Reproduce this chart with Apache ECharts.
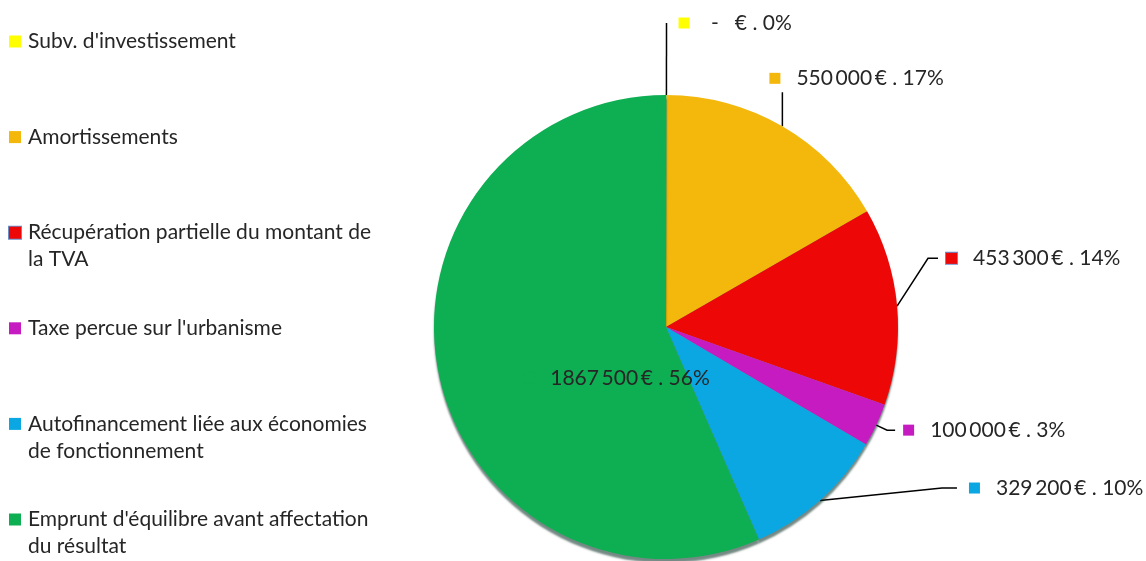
<!DOCTYPE html>
<html>
<head>
<meta charset="utf-8">
<script src="https://cdn.jsdelivr.net/npm/echarts@6/dist/echarts.min.js"></script>
<style>
html,body{margin:0;padding:0;background:#fff;}
#chart{width:1146px;height:561px;}
</style>
</head>
<body>
<div id="chart"></div>
<script>
// ---- data ----
const categories = [
  "Subv. d'investissement",
  "Amortissements",
  "Récupération partielle du montant de la TVA",
  "Taxe percue sur l'urbanisme",
  "Autofinancement liée aux économies de fonctionnement",
  "Emprunt d'équilibre avant affectation du résultat"
];
const legendLines = [
  ["Subv. d'investissement", ""],
  ["Amortissements", ""],
  ["Récupération partielle du montant de", "la TVA"],
  ["Taxe percue sur l'urbanisme", ""],
  ["Autofinancement liée aux économies", "de fonctionnement"],
  ["Emprunt d'équilibre avant affectation", "du résultat"]
];
const values = [0, 550000, 453300, 100000, 329200, 1867500];

// ---- styles ----
const colors = ['#FFFF00', '#F4B80C', '#EE0707', '#C71BC2', '#0BA7E3', '#0EAE52'];
const FONT = 'Lato';
const TEXT = '#262626';

function fmtMoney(v) {
  if (v === 0) return ' -   €';
  const s = String(v);
  return (s.length > 3 ? s.slice(0, -3) + '\u2009' + s.slice(-3) : s) + '\u2009€';
}

const rich = {
  v: { fontFamily: FONT, fontSize: 21, color: TEXT, padding: [0, 0, 0, 16], lineHeight: 24 },
  t: { fontFamily: FONT, fontSize: 21, color: TEXT, padding: [0, 0, 0, 7], lineHeight: 27 },
  sp: { width: 12, height: 12, lineHeight: 27 }
};
colors.forEach((c, i) => {
  const border = i === 2 ? { borderColor: '#6C8CC8', borderWidth: 1 } : {};
  rich['m' + i] = Object.assign({ width: 11, height: 11, backgroundColor: c }, border);
  rich['b' + i] = Object.assign({ width: 12, height: 12, backgroundColor: c, lineHeight: 27 }, border);
});

const labelLines = [
  { length: 72, length2: 0 },
  { length: 30, length2: 0 },
  { length: 8, length2: 25 },
  { length: 12, length2: 8 },
  { length: 6, length2: 125 },
  {}
];
const labelDistance = [12, 8, 8, 8, 12, 8];
// label shift, line end offset from shifted anchor, horizontal tail length
const labelAdjust = [
  null,
  { shift: [-36, -22], end: [21, 14], tail: 0 },
  { shift: [8, -47], end: [0, 0], tail: 10 },
  null,
  { shift: [8, -17], end: [0, 0], tail: 15 },
  null
];

const data = categories.map((name, i) => {
  const item = {
    name: name, value: values[i],
    labelLine: labelLines[i],
    label: { distanceToLabelLine: labelDistance[i] }
  };
  if (i === 5) {
    item.label = { position: 'inner', offset: [67, 27] };
  }
  return item;
});

const chart = echarts.init(document.getElementById('chart'), null, { renderer: 'canvas' });
chart.setOption({
  animation: false,
  color: colors,
  legend: {
    orient: 'vertical',
    left: 4,
    top: 31,
    height: 620,
    padding: 0,
    itemGap: 47.6,
    icon: 'none',
    itemWidth: 0,
    itemHeight: 12,
    selectedMode: false,
    data: categories,
    formatter: function (name) {
      const i = categories.indexOf(name);
      const l = legendLines[i];
      return '{b' + i + '|}{t|' + l[0] + '}\n{sp|}{t|' + (l[1] || ' ') + '}';
    },
    textStyle: { rich: rich, fontFamily: FONT, fontSize: 21, color: TEXT }
  },
  series: [{
    type: 'pie',
    center: [666, 327],
    radius: [0, 232],
    startAngle: 89.9,
    clockwise: true,
    avoidLabelOverlap: false,
    data: data,
    itemStyle: {
      borderWidth: 0,
      shadowColor: 'rgba(0,40,30,0.55)',
      shadowBlur: 2,
      shadowOffsetY: 4
    },
    label: {
      show: true,
      position: 'outside',
      formatter: function (p) {
        return '{m' + p.dataIndex + '|}{v|' + fmtMoney(p.value) + ' . ' + p.percent + '%}';
      },
      rich: rich
    },
    labelLine: {
      show: true,
      lineStyle: { color: '#000', width: 1.5 }
    },
    labelLayout: function (p) {
      const a = labelAdjust[p.dataIndex];
      if (!a || !p.labelLinePoints) return {};
      const pts = p.labelLinePoints;
      const p0 = pts[0];
      const last = pts[pts.length - 1];
      const end = [last[0] + a.shift[0] + a.end[0], last[1] + a.shift[1] + a.end[1]];
      const newPts = a.tail > 0
        ? [p0, [end[0] - a.tail, end[1]], end]
        : [p0, end];
      return { dx: a.shift[0], dy: a.shift[1], labelLinePoints: newPts };
    },
    percentPrecision: 0
  }]
});
</script>
</body>
</html>
